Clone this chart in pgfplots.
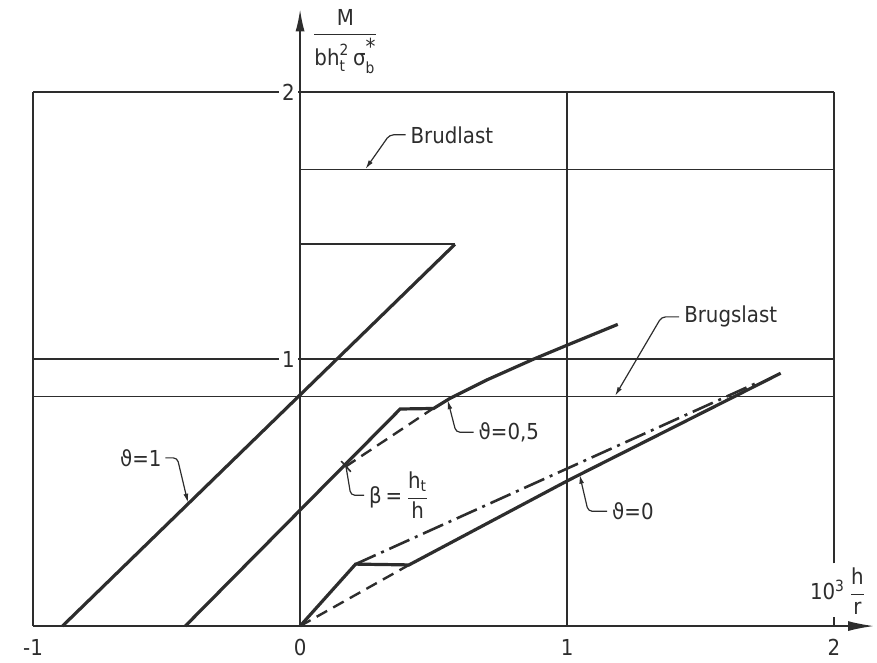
\documentclass[border=0pt]{standalone}
\usepackage{pgfplots}
\pgfplotsset{compat=1.18}
\usepackage{amsmath}
\usepackage{fontspec}
\setmainfont{DejaVu Sans Condensed}
\usetikzlibrary{arrows.meta}
\definecolor{ink}{RGB}{45,45,45}

\begin{document}
\begin{tikzpicture}[font=\fontsize{11}{13}\selectfont]
\begin{axis}[
  x=133.5pt, y=133.5pt,
  xmin=-1, xmax=2.15, ymin=0, ymax=2.31,
  axis lines=middle,
  axis on top,
  clip=false,
  axis line style={ink, line width=0.8pt},
  x axis line style={-{Latex[length=13pt,width=5pt]}},
  y axis line style={-{Latex[length=11pt,width=4.5pt]}},
  xtick={-1,0,1,2}, ytick={1,2},
  major tick length=0pt,
  hide obscured x ticks=false,
  hide obscured y ticks=false,
  /pgf/number format/assume math mode=true,
  xticklabel style={anchor=north, yshift=-3pt, text=ink},
  yticklabel style={anchor=east, fill=white, inner sep=1.5pt, xshift=-1pt, text=ink},
  gridline/.style={ink, no markers, solid, line width=0.8pt},
  curve/.style={ink, no markers, solid, line width=1.6pt},
  dashline/.style={ink, no markers, line width=1.2pt, dash pattern=on 6pt off 3.5pt},
]
% frame of the image area
\path (axis cs:-1.124,-0.12) rectangle (axis cs:2.161,2.345);

% grid and load levels
\addplot[gridline] coordinates {(-1,0) (-1,2)};
\addplot[gridline] coordinates {(1,0) (1,2)};
\addplot[gridline] coordinates {(2,0.235) (2,2)};
\addplot[gridline] coordinates {(2,0) (2,0.05)};
\addplot[gridline] coordinates {(-1,2) (2,2)};
\addplot[gridline] coordinates {(-1,1) (2,1)};
\addplot[gridline] coordinates {(0,1.71) (2,1.71)};   % Brudlast
\addplot[gridline] coordinates {(-1,0.86) (2,0.86)};  % Brugslast

% theta = 1
\addplot[curve] coordinates {(-0.89,0) (0.58,1.43)};
\addplot[gridline] coordinates {(0,1.43) (0.58,1.43)};

% theta = 0.5
\addplot[curve] coordinates {(-0.43,0) (0.375,0.813) (0.5,0.815) (0.56,0.852)
  (0.7,0.922) (0.875,1.0) (1.0,1.052) (1.19,1.13)};
\addplot[dashline] coordinates {(0.17,0.597) (0.498,0.815)};
\addplot[gridline] coordinates {(0.154,0.618) (0.19,0.578)};

% theta = 0
\addplot[curve] coordinates {(0,0) (0.208,0.232) (0.408,0.229) (1.005,0.546) (1.8,0.947)};
\addplot[dashline] coordinates {(0,0) (0.408,0.229)};
\addplot[ink, no markers, line width=1.3pt, dash pattern=on 11pt off 3pt on 1.5pt off 3pt] coordinates {(0.208,0.232) (1.72,0.915)};

% leaders
\begin{scope}[ink, line width=0.6pt, rounded corners=2pt]
\draw[-{Latex[length=4.5pt,width=2.4pt]}] (axis cs:0.395,1.84) -- (axis cs:0.335,1.84) -- (axis cs:0.245,1.712);
\draw[-{Latex[length=4.5pt,width=2.4pt]}] (axis cs:1.42,1.158) -- (axis cs:1.354,1.158) -- (axis cs:1.18,0.862);
\draw[-{Latex[length=4.5pt,width=2.4pt]}] (axis cs:0.65,0.726) -- (axis cs:0.584,0.726) -- (axis cs:0.553,0.846);
\draw (axis cs:0.24,0.49) -- (axis cs:0.19,0.49) -- (axis cs:0.172,0.597);
\draw[-{Latex[length=4.5pt,width=2.4pt]}] (axis cs:1.15,0.43) -- (axis cs:1.079,0.43) -- (axis cs:1.047,0.567);
\draw[-{Latex[length=4.5pt,width=2.4pt]}] (axis cs:-0.505,0.63) -- (axis cs:-0.46,0.63) -- (axis cs:-0.42,0.462);
\end{scope}

% labels
\begin{scope}[every node/.style={text=ink, inner sep=1pt}]
\node[anchor=west] at (axis cs:0.405,1.84) {Brudlast};
\node[anchor=west] at (axis cs:1.43,1.16) {Brugslast};
\node[anchor=west] at (axis cs:0.66,0.725) {ϑ=0,5};
\node[anchor=west] at (axis cs:0.25,0.49) {β\,=\,$\dfrac{\text{h}_{\text{t}}}{\text{h}}$};
\node[anchor=west] at (axis cs:1.16,0.43) {ϑ=0};
\node[anchor=east] at (axis cs:-0.51,0.63) {ϑ=1};
\node at (axis cs:0.17,2.19) {$\dfrac{\text{M}}{\text{bh}_{\text{t}}^{\text{2}}\,\text{σ}_{\text{b}}^{\raisebox{2pt}{\text{*}}}}$};
\node[fill=white] at (axis cs:2.015,0.13) {10\textsuperscript{3}\,$\dfrac{\text{h}}{\text{r}}$};
\end{scope}
\end{axis}
\end{tikzpicture}
\end{document}
